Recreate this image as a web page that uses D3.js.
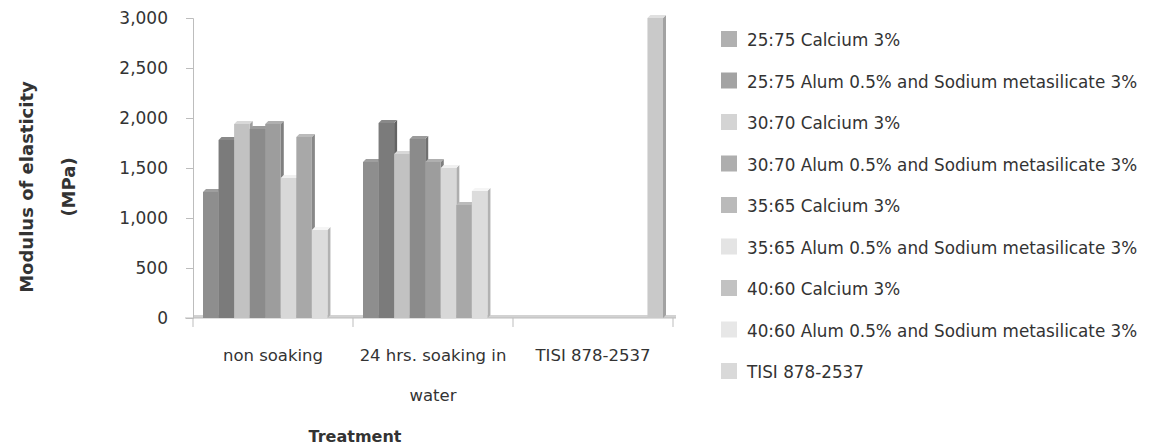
<!DOCTYPE html>
<html>
<head>
<meta charset="utf-8">
<script src="https://cdn.jsdelivr.net/npm/d3@7/dist/d3.min.js"></script>
<style>
  html, body { margin: 0; padding: 0; background: #fff; }
  svg { display: block; }
  text { font-family: "DejaVu Sans", sans-serif; fill: #333; }
</style>
</head>
<body>
<svg id="chart" width="1149" height="448"></svg>
<script>
// Treatments along the x axis
const categories = ["non soaking", "24 hrs. soaking in water", "TISI 878-2537"];
const categoryLines = [["non soaking"], ["24 hrs. soaking in", "water"], ["TISI 878-2537"]];

// Mixture series (one value per treatment, MPa)
const seriesNames = [
  "25:75 Calcium 3%",
  "25:75 Alum 0.5% and Sodium metasilicate 3%",
  "30:70 Calcium 3%",
  "30:70 Alum 0.5% and Sodium metasilicate 3%",
  "35:65 Calcium 3%",
  "35:65 Alum 0.5% and Sodium metasilicate 3%",
  "40:60 Calcium 3%",
  "40:60 Alum 0.5% and Sodium metasilicate 3%",
  "TISI 878-2537"
];
const s2575Ca   = [1260, 1560, 0];
const s2575Alum = [1780, 1950, 0];
const s3070Ca   = [1940, 1640, 0];
const s3070Alum = [1890, 1790, 0];
const s3565Ca   = [1940, 1560, 0];
const s3565Alum = [1400, 1500, 0];
const s4060Ca   = [1810, 1130, 0];
const s4060Alum = [880, 1270, 0];
const sTISI     = [0, 0, 3000];
const seriesValues = [s2575Ca, s2575Alum, s3070Ca, s3070Alum, s3565Ca, s3565Alum, s4060Ca, s4060Alum, sTISI];

const yTicks = [0, 500, 1000, 1500, 2000, 2500, 3000];

// Grey shades for each series
const palette = ["#8e8e8e", "#7b7b7b", "#c2c2c2", "#8b8b8b", "#9d9d9d", "#d8d8d8", "#a8a8a8", "#dcdcdc", "#c9c9c9"];

const svg = d3.select("#chart");
const plot = { left: 193, right: 673, top: 18, bottom: 318 };
const depth = 3;

const x0 = d3.scaleBand().domain(categories).range([plot.left, plot.right])
  .paddingInner(0.125).paddingOuter(0.0625);
const x1 = d3.scaleBand().domain(d3.range(seriesNames.length)).range([0, x0.bandwidth()]);
const y = d3.scaleLinear().domain([0, 3000]).range([plot.bottom, plot.top]);

// Floor strip
svg.append("rect")
  .attr("x", plot.left).attr("y", plot.bottom - depth)
  .attr("width", plot.right - plot.left + depth).attr("height", depth)
  .attr("fill", "#d2d2d2");

// Y axis
const yAxis = svg.append("g")
  .attr("transform", `translate(${plot.left},0)`)
  .call(d3.axisLeft(y).tickValues(yTicks).tickFormat(d3.format(",")).tickSize(7).tickPadding(18));
yAxis.select(".domain").attr("stroke", "#bdbdbd");
yAxis.selectAll(".tick line").attr("stroke", "#bdbdbd");
yAxis.selectAll(".tick text").style("font-size", "17px").attr("fill", "#333");

// X axis line and category ticks
svg.append("line")
  .attr("x1", plot.left - 8).attr("x2", plot.right + depth)
  .attr("y1", plot.bottom).attr("y2", plot.bottom)
  .attr("stroke", "#bdbdbd");
const step = x0.step();
const boundaries = categories.map((c, i) => x0(c) - x0.paddingOuter() * step).concat([plot.right]);
svg.selectAll(".xtick").data(boundaries).enter().append("line")
  .attr("x1", d => d).attr("x2", d => d)
  .attr("y1", plot.bottom).attr("y2", plot.bottom + 9)
  .attr("stroke", "#bdbdbd");

// Bars with a small 3D side and top face
const groups = svg.selectAll(".grp").data(categories).enter().append("g")
  .attr("transform", d => `translate(${x0(d)},0)`);
groups.each(function (cat, ci) {
  const g = d3.select(this);
  seriesValues.forEach((vals, si) => {
    const v = vals[ci];
    if (!v) return;
    const bx = x1(si), bw = x1.bandwidth(), by = y(v), b0 = y(0);
    const base = d3.color(palette[si]);
    g.append("polygon")
      .attr("points", [[bx + bw, by], [bx + bw + depth, by - depth], [bx + bw + depth, b0 - depth], [bx + bw, b0]].join(" "))
      .attr("fill", base.darker(0.6));
    g.append("polygon")
      .attr("points", [[bx, by], [bx + depth, by - depth], [bx + bw + depth, by - depth], [bx + bw, by]].join(" "))
      .attr("fill", base.brighter(0.3));
    g.append("rect")
      .attr("x", bx).attr("y", by).attr("width", bw).attr("height", b0 - by)
      .attr("fill", base);
  });
});

// Category labels
categories.forEach((c, i) => {
  const cx = x0(c) + x0.bandwidth() / 2;
  categoryLines[i].forEach((line, li) => {
    svg.append("text")
      .attr("x", cx).attr("y", 361 + li * 40)
      .attr("text-anchor", "middle")
      .style("font-size", "16.5px")
      .text(line);
  });
});

// Axis titles
svg.append("text")
  .attr("transform", "translate(33,187) rotate(-90)")
  .attr("text-anchor", "middle")
  .style("font-size", "18px").style("font-weight", "bold").attr("fill", "#222")
  .text("Modulus of elasticity");
svg.append("text")
  .attr("transform", "translate(75,187) rotate(-90)")
  .attr("text-anchor", "middle")
  .style("font-size", "18px").style("font-weight", "bold").attr("fill", "#222")
  .text("(MPa)");
svg.append("text")
  .attr("x", 355).attr("y", 442)
  .attr("text-anchor", "middle")
  .style("font-size", "16px").style("font-weight", "bold").attr("fill", "#222")
  .text("Treatment");

// Legend
const legend = svg.append("g").attr("transform", "translate(721,0)");
const rows = legend.selectAll("g").data(seriesNames).enter().append("g")
  .attr("transform", (d, i) => `translate(0,${39 + i * 41.5})`);
rows.append("rect")
  .attr("x", 0).attr("y", -8).attr("width", 16).attr("height", 16)
  .attr("fill", (d, i) => d3.interpolateRgb(palette[i], "#fff")(0.3));
rows.append("text")
  .attr("x", 26).attr("y", 7)
  .style("font-size", "16.8px")
  .text(d => d);
</script>
</body>
</html>
